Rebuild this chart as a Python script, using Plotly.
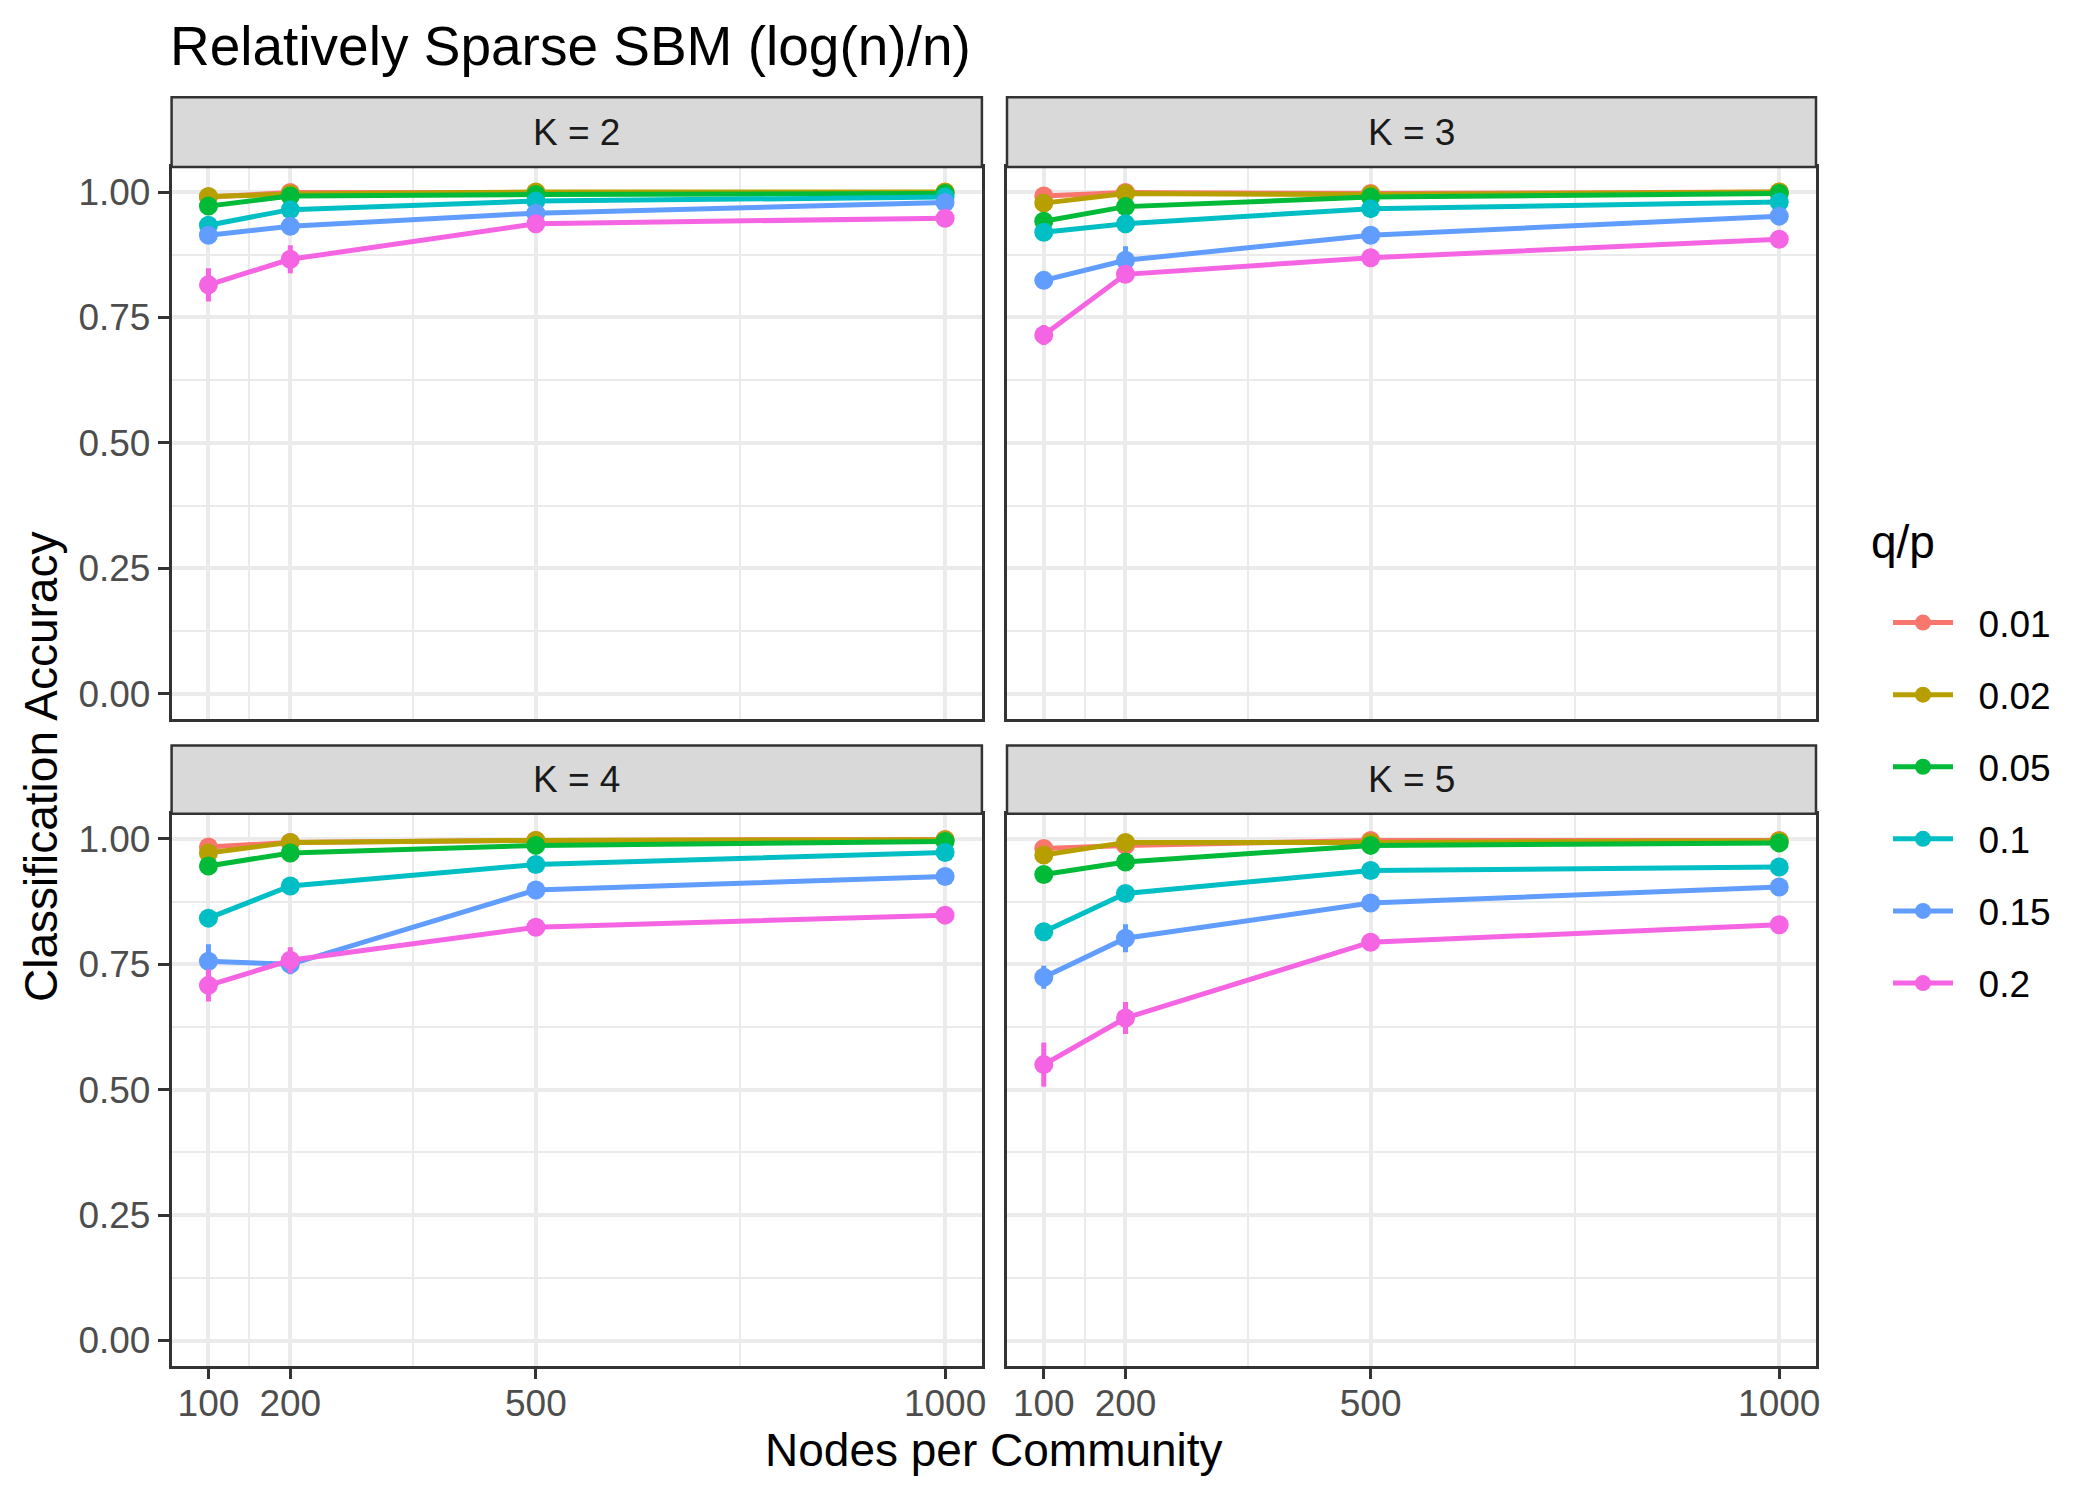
import plotly.graph_objects as go

# Data
n_nodes = [100, 200, 500, 1000]
q_over_p = ["0.01", "0.02", "0.05", "0.1", "0.15", "0.2"]
series_colors = ["#F8766D", "#B79F00", "#00BA38", "#00BFC4", "#619CFF", "#F564E3"]
panel_labels = ["K = 2", "K = 3", "K = 4", "K = 5"]

# accuracy, one row per q/p value
acc_k2 = [
    [0.990, 0.999, 0.999, 0.999],
    [0.991, 0.996, 1.000, 1.000],
    [0.972, 0.992, 0.995, 0.997],
    [0.934, 0.965, 0.982, 0.990],
    [0.914, 0.932, 0.958, 0.979],
    [0.815, 0.866, 0.937, 0.948],
]
acc_k3 = [
    [0.992, 0.999, 0.997, 1.000],
    [0.978, 0.997, 0.995, 1.000],
    [0.942, 0.971, 0.990, 0.997],
    [0.920, 0.937, 0.967, 0.980],
    [0.824, 0.864, 0.914, 0.952],
    [0.715, 0.836, 0.869, 0.906],
]
acc_k4 = [
    [0.984, 0.993, 0.997, 0.999],
    [0.972, 0.993, 0.997, 0.998],
    [0.946, 0.972, 0.987, 0.995],
    [0.842, 0.906, 0.949, 0.973],
    [0.756, 0.750, 0.898, 0.925],
    [0.708, 0.758, 0.824, 0.848],
]
acc_k5 = [
    [0.981, 0.987, 0.997, 0.997],
    [0.968, 0.993, 0.993, 0.996],
    [0.929, 0.954, 0.987, 0.992],
    [0.815, 0.891, 0.937, 0.944],
    [0.724, 0.802, 0.872, 0.904],
    [0.550, 0.643, 0.794, 0.829],
]

# error bar half-widths
se_k2 = [
    [0.003, 0.002, 0.001, 0.001],
    [0.004, 0.002, 0.001, 0.001],
    [0.008, 0.003, 0.002, 0.001],
    [0.010, 0.006, 0.003, 0.002],
    [0.012, 0.008, 0.004, 0.002],
    [0.033, 0.028, 0.006, 0.004],
]
se_k3 = [
    [0.003, 0.001, 0.001, 0.001],
    [0.006, 0.002, 0.001, 0.001],
    [0.012, 0.005, 0.002, 0.001],
    [0.010, 0.006, 0.003, 0.002],
    [0.010, 0.028, 0.006, 0.003],
    [0.020, 0.012, 0.006, 0.004],
]
se_k4 = [
    [0.004, 0.002, 0.001, 0.001],
    [0.005, 0.002, 0.001, 0.001],
    [0.008, 0.004, 0.002, 0.001],
    [0.012, 0.008, 0.004, 0.002],
    [0.034, 0.020, 0.006, 0.004],
    [0.032, 0.026, 0.008, 0.005],
]
se_k5 = [
    [0.004, 0.002, 0.001, 0.001],
    [0.006, 0.002, 0.001, 0.001],
    [0.008, 0.005, 0.002, 0.001],
    [0.016, 0.010, 0.004, 0.003],
    [0.023, 0.028, 0.008, 0.004],
    [0.044, 0.032, 0.010, 0.006],
]

W, H = 2100, 1500
FONT = "Liberation Sans"

# panel boxes in pixels: left, right, strip top, plot top, plot bottom
panels = [
    (163.6, 973.9, 89.3, 159.0, 710.7),
    (999.0, 1808.0, 89.3, 159.0, 710.7),
    (163.6, 973.9, 737.5, 805.8, 1357.6),
    (999.0, 1808.0, 737.5, 805.8, 1357.6),
]
accs = [acc_k2, acc_k3, acc_k4, acc_k5]
ses = [se_k2, se_k3, se_k4, se_k5]


def px_x(v):
    return v / W


def px_y(v):
    return 1 - v / H


fig = go.Figure()

for p in range(4):
    xa = "x" if p == 0 else f"x{p + 1}"
    ya = "y" if p == 0 else f"y{p + 1}"
    for s, name in enumerate(q_over_p):
        fig.add_trace(go.Scatter(
            x=n_nodes, y=accs[p][s],
            error_y=dict(type="data", array=ses[p][s], visible=True,
                         color=series_colors[s], thickness=5, width=0),
            mode="lines+markers",
            line=dict(color=series_colors[s], width=5),
            marker=dict(color=series_colors[s], size=19),
            # non-breaking spaces push the label away from the key, as in ggplot
            name="\u00a0\u00a0" + name, legendgroup=name, showlegend=(p == 0),
            xaxis=xa, yaxis=ya,
        ))

shapes = []
annotations = []
layout_axes = {}
for p, (l, r, st, pt, pb) in enumerate(panels):
    suffix = "" if p == 0 else str(p + 1)
    bottom = p >= 2
    left = p % 2 == 0
    layout_axes[f"xaxis{suffix}"] = dict(
        domain=[px_x(l), px_x(r)], anchor=f"y{suffix}", range=[55, 1045],
        tickvals=n_nodes, ticktext=[str(v) for v in n_nodes],
        showticklabels=bottom, ticks="outside" if bottom else "",
        ticklen=11, tickwidth=2.5, tickcolor="#333333", ticklabelstandoff=-8,
        tickfont=dict(family=FONT, size=37, color="#4D4D4D"),
        showgrid=True, gridcolor="#EBEBEB", gridwidth=3.5,
        minor=dict(tickvals=[150, 350, 750], showgrid=True,
                   gridcolor="#EBEBEB", gridwidth=1.8, ticks=""),
        showline=True, mirror=True, linecolor="#333333", linewidth=2.5,
        zeroline=False, fixedrange=True, automargin=False,
    )
    layout_axes[f"yaxis{suffix}"] = dict(
        domain=[px_y(pb), px_y(pt)], anchor=f"x{suffix}", range=[-0.05, 1.05],
        tickvals=[0, 0.25, 0.5, 0.75, 1.0],
        ticktext=["0.00", "0.25", "0.50", "0.75", "1.00"],
        showticklabels=left, ticks="outside" if left else "",
        ticklen=11, tickwidth=2.5, tickcolor="#333333",
        tickfont=dict(family=FONT, size=37, color="#4D4D4D"),
        showgrid=True, gridcolor="#EBEBEB", gridwidth=3.5,
        minor=dict(tickvals=[0.125, 0.375, 0.625, 0.875], showgrid=True,
                   gridcolor="#EBEBEB", gridwidth=1.8, ticks=""),
        showline=True, mirror=True, linecolor="#333333", linewidth=2.5,
        zeroline=False, fixedrange=True, automargin=False,
    )
    # facet strip
    shapes.append(dict(
        type="rect", xref="paper", yref="paper",
        x0=px_x(l), x1=px_x(r), y0=px_y(pt), y1=px_y(st),
        fillcolor="#D9D9D9", line=dict(color="#333333", width=2.5), layer="above",
    ))
    annotations.append(dict(
        text=panel_labels[p], xref="paper", yref="paper",
        x=px_x((l + r) / 2), y=px_y((st + pt) / 2),
        xanchor="center", yanchor="middle", showarrow=False,
        font=dict(family=FONT, size=37, color="#1A1A1A"),
    ))

annotations += [
    dict(text="Relatively Sparse SBM (log(n)/n)", xref="paper", yref="paper",
         x=px_x(160), y=px_y(38), xanchor="left", yanchor="middle",
         showarrow=False, font=dict(family=FONT, size=55, color="black")),
    dict(text="Nodes per Community", xref="paper", yref="paper",
         x=px_x((163.6 + 1808.0) / 2), y=px_y(1442), xanchor="center", yanchor="middle",
         showarrow=False, font=dict(family=FONT, size=46, color="black")),
    dict(text="Classification Accuracy", xref="paper", yref="paper",
         x=px_x(33), y=px_y(759), xanchor="center", yanchor="middle",
         textangle=-90, showarrow=False, font=dict(family=FONT, size=46, color="black")),
    # legend title, placed by hand to get ggplot's gap above the keys
    dict(text="q/p", xref="paper", yref="paper",
         x=px_x(1861), y=px_y(534), xanchor="left", yanchor="middle",
         showarrow=False, font=dict(family=FONT, size=46, color="black")),
]

fig.update_layout(
    width=W, height=H,
    margin=dict(l=0, r=0, t=0, b=0),
    paper_bgcolor="white", plot_bgcolor="white",
    shapes=shapes, annotations=annotations,
    legend=dict(
        font=dict(family=FONT, size=37, color="black"),
        x=px_x(1880), y=px_y(584), xanchor="left", yanchor="top",
        tracegroupgap=21, itemwidth=60, bgcolor="rgba(0,0,0,0)",
    ),
    **layout_axes,
)

fig.write_html("out.html")
